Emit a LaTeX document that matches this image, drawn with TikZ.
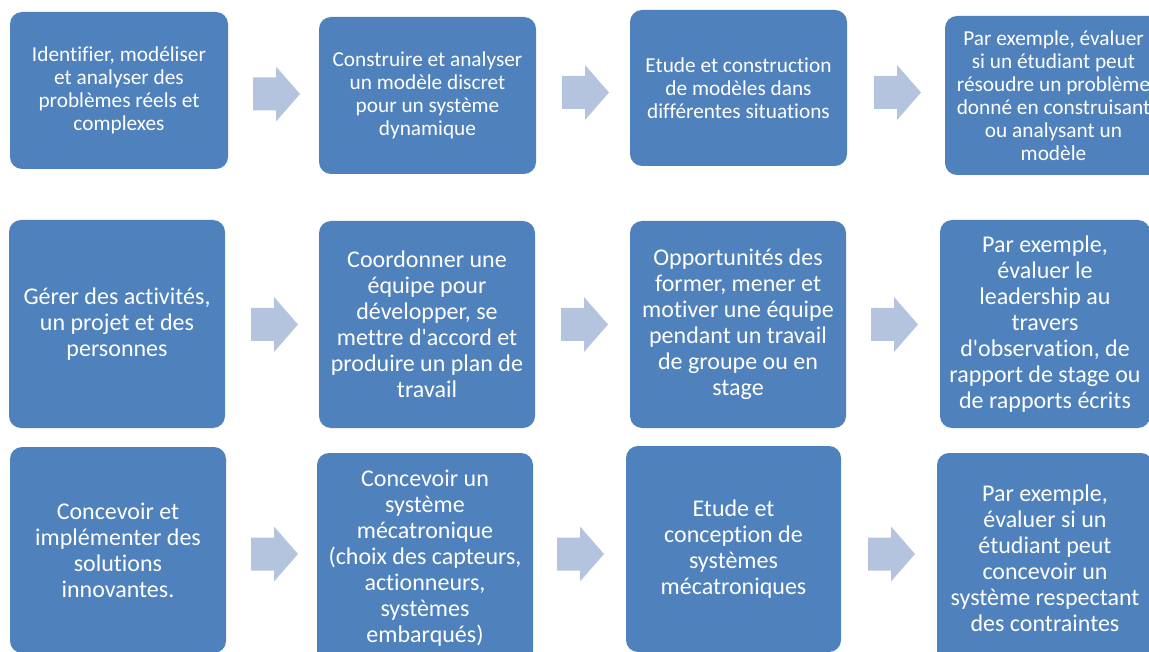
\documentclass[tikz,border=0pt]{standalone}
\usepackage{fontspec}
\setmainfont[Ligatures={NoCommon}]{Carlito}
\definecolor{boxblue}{HTML}{4F81BD}
\definecolor{arrblue}{HTML}{B4C4DE}
\tikzset{
  box/.style={fill=boxblue, rounded corners=12pt, text=white, align=center, inner sep=0pt},
  small/.style={font=\fontsize{21.3}{23}\selectfont},
  big/.style={font=\fontsize{24}{26}\selectfont},
  arr/.style={fill=arrblue}
}
\newcommand\blockarr[2]{\fill[arr] (#1,#2) ++(0,-16.5) -- ++(23,0) -- ++(0,-11) -- ++(24,27.5) -- ++(-24,27.5) -- ++(0,-11) -- ++(-23,0) -- cycle;}
\begin{document}
\begin{tikzpicture}[x=1pt,y=-1pt]
\useasboundingbox (0,0) rectangle (1149,652);
\clip (0,0) rectangle (1149,652);
% row 1
\node[box,small,minimum width=218pt,minimum height=157pt] (a1) at (119,90.5) {Identifier, modéliser\\et analyser des\\problèmes réels et\\complexes};
\node[box,small,minimum width=217pt,minimum height=157pt] (b1) at (427.5,95.5) {Construire et analyser\\un modèle discret\\pour un système\\dynamique};
\node[box,small,minimum width=217pt,minimum height=156pt] (c1) at (738.5,88) {Etude et construction\\de modèles dans\\différentes situations};
\node[box,small,minimum width=217pt,minimum height=159pt] (d1) at (1053.5,95.5) {Par exemple, évaluer\\si un étudiant peut\\résoudre un problème\\donné en construisant\\ou analysant un\\modèle};
% row 2
\node[box,big,minimum width=216pt,minimum height=208pt] (a2) at (117,324) {Gérer des activités,\\un projet et des\\personnes};
\node[box,big,minimum width=216pt,minimum height=207pt] (b2) at (427,324.5) {Coordonner une\\équipe pour\\développer, se\\mettre d\textquotesingle accord et\\produire un plan de\\travail};
\node[box,big,minimum width=216pt,minimum height=207pt] (c2) at (738,324.5) {Opportunités des\\former, mener et\\motiver une équipe\\pendant un travail\\de groupe ou en\\stage};
\node[box,big,minimum width=210pt,minimum height=208pt] (d2) at (1045,324) {Par exemple,\\évaluer le\\leadership au\\travers\\d\textquotesingle observation, de\\rapport de stage ou\\de rapports écrits};
% row 3
\node[box,big,minimum width=216pt,minimum height=206pt] (a3) at (118,550) {Concevoir et\\implémenter des\\solutions\\innovantes.};
\node[box,big,minimum width=216pt,minimum height=210pt] (b3) at (425,558) {Concevoir un\\système\\mécatronique\\(choix des capteurs,\\actionneurs,\\systèmes\\embarqués)};
\node[box,big,minimum width=215pt,minimum height=206pt] (c3) at (733.5,549) {Etude et\\conception de\\systèmes\\mécatroniques};
\node[box,big,minimum width=216pt,minimum height=210pt] (d3) at (1045,558) {Par exemple,\\évaluer si un\\étudiant peut\\concevoir un\\système respectant\\des contraintes};
% arrows
\blockarr{253}{94}
\blockarr{562}{92.5}
\blockarr{874}{92.5}
\blockarr{251}{324.5}
\blockarr{561}{324.5}
\blockarr{871}{324.5}
\blockarr{251}{554}
\blockarr{557}{554}
\blockarr{868}{554}
\end{tikzpicture}
\end{document}
